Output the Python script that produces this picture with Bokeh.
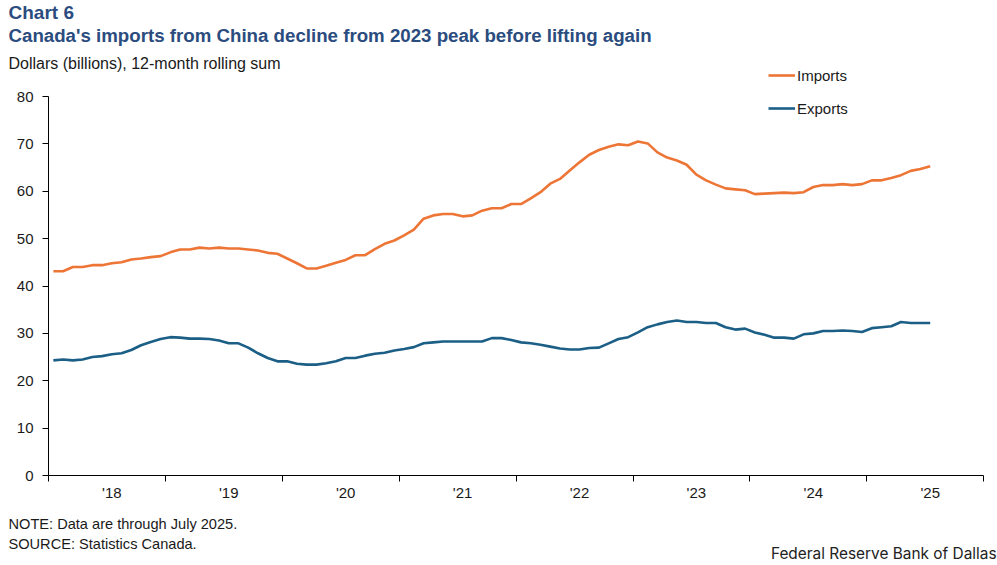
import pandas as pd
from bokeh.plotting import figure
from bokeh.models import Range1d, FixedTicker, Label, Legend, LegendItem
from bokeh.embed import file_html
from bokeh.resources import INLINE

# ---- data (monthly, Jan 2018 - Jul 2025), 12-month rolling sums, $ billions
months = [d.strftime("%Y-%m") for d in pd.date_range("2018-01-01", "2025-07-01", freq="MS")]

imports = [
    43.1, 43.1, 44.0, 44.0, 44.4, 44.4, 44.8, 45.0, 45.6, 45.8, 46.1, 46.3,
    47.1, 47.7, 47.7, 48.1, 47.9, 48.1, 47.9, 47.9, 47.7, 47.5, 47.0, 46.8,
    45.8, 44.8, 43.7, 43.7, 44.3, 44.9, 45.5, 46.5, 46.5, 47.8, 48.9, 49.6,
    50.7, 51.9, 54.2, 54.9, 55.2, 55.2, 54.7, 54.9, 55.9, 56.4, 56.4, 57.3,
    57.3, 58.5, 59.8, 61.6, 62.6, 64.4, 66.1, 67.7, 68.7, 69.4, 69.9, 69.7,
    70.5, 70.1, 68.2, 67.1, 66.5, 65.6, 63.5, 62.3, 61.4, 60.6, 60.4, 60.2,
    59.4, 59.5, 59.6, 59.7, 59.6, 59.8, 60.9, 61.3, 61.3, 61.5, 61.3, 61.5,
    62.3, 62.3, 62.8, 63.4, 64.3, 64.7, 65.3,
]

exports = [
    24.3, 24.5, 24.3, 24.5, 25.0, 25.2, 25.6, 25.8, 26.5, 27.5, 28.2, 28.8,
    29.2, 29.1, 28.9, 28.9, 28.8, 28.5, 27.9, 27.9, 27.0, 25.8, 24.8, 24.1,
    24.1, 23.6, 23.4, 23.4, 23.7, 24.1, 24.8, 24.8, 25.3, 25.7, 25.9, 26.4,
    26.7, 27.1, 27.9, 28.1, 28.3, 28.3, 28.3, 28.3, 28.3, 29.0, 29.0, 28.6,
    28.1, 27.9, 27.6, 27.2, 26.8, 26.6, 26.6, 26.9, 27.0, 27.9, 28.8, 29.2,
    30.2, 31.3, 31.9, 32.4, 32.7, 32.4, 32.4, 32.2, 32.2, 31.3, 30.8, 31.0,
    30.2, 29.7, 29.1, 29.1, 28.9, 29.8, 30.0, 30.5, 30.5, 30.6, 30.5, 30.3,
    31.1, 31.3, 31.5, 32.4, 32.2, 32.2, 32.2,
]

year_labels = ["'18", "'19", "'20", "'21", "'22", "'23", "'24", "'25"]
y_ticks = [0, 10, 20, 30, 40, 50, 60, 70, 80]

x_idx = list(range(len(months)))

# ---- styling
ORANGE = "#ED7536"
BLUE = "#1B5E86"
NAVY = "#2B4C7E"
FONT = "Liberation Sans"

W, H = 997, 565
n_axis_months = 96  # axis spans Jan 2018 .. Dec 2025
AX0, AX1 = -0.5, n_axis_months - 0.5
AY0, AY1 = 0, 80
# axis box position on the canvas (pixels)
FL, FR, FT, FB = 48.0, 983.3, 96.0, 475.0

def dx(px):
    return AX0 + (px - FL) * (AX1 - AX0) / (FR - FL)
def dy(py):
    return AY0 + (FB - py) * (AY1 - AY0) / (FB - FT)

p = figure(width=W, height=H, output_backend="svg", toolbar_location=None,
           x_range=Range1d(dx(0), dx(W)), y_range=Range1d(dy(H), dy(0)),
           min_border=0)
p.outline_line_color = None
p.xgrid.visible = False
p.ygrid.visible = False
p.background_fill_color = "white"
p.border_fill_color = "white"

r_imp = p.line(x_idx, imports, line_color=ORANGE, line_width=2.6)
r_exp = p.line(x_idx, exports, line_color=BLUE, line_width=2.6)

# y axis
ya = p.yaxis[0]
ya.fixed_location = AX0
ya.bounds = (AY0, AY1)
ya.ticker = FixedTicker(ticks=y_ticks)
ya.major_tick_out = 6
ya.major_tick_in = 0
ya.minor_tick_out = 0
ya.minor_tick_in = 0
ya.axis_line_color = "black"
ya.major_tick_line_color = "black"
ya.major_label_standoff = 9
ya.major_label_text_font = FONT
ya.major_label_text_font_size = "15px"
ya.major_label_text_color = "#1a1a1a"

# x axis: labels mid-year (July), tick marks at year boundaries
xa = p.xaxis[0]
xa.fixed_location = AY0
xa.bounds = (AX0, AX1)
label_pos = [6 + 12 * k for k in range(len(year_labels))]
bounds = [AX0 + 12 * k for k in range(len(year_labels) + 1)]
xa.ticker = FixedTicker(ticks=label_pos, minor_ticks=bounds)
xa.major_label_overrides = {pos: lab for pos, lab in zip(label_pos, year_labels)}
xa.major_tick_out = 0
xa.major_tick_in = 0
xa.minor_tick_out = 6
xa.minor_tick_in = 0
xa.minor_tick_line_color = "black"
xa.axis_line_color = "black"
xa.major_label_standoff = 2
xa.major_label_text_font = FONT
xa.major_label_text_font_size = "15px"
xa.major_label_text_color = "#1a1a1a"

def add_text(px, py, text, size, color="#1a1a1a", bold=False, font=FONT, align="left"):
    p.add_layout(Label(x=dx(px), y=dy(py), text=text, text_font=font,
                       text_font_size=size, text_color=color,
                       text_font_style="bold" if bold else "normal",
                       text_align=align, text_baseline="middle"))

add_text(8, 12, "Chart 6", "19px", NAVY, True)
add_text(8, 35, "Canada's imports from China decline from 2023 peak before lifting again",
         "18.7px", NAVY, True)
add_text(8, 63, "Dollars (billions), 12-month rolling sum", "16px")
add_text(8, 523, "NOTE: Data are through July 2025.", "14.6px")
add_text(8, 543, "SOURCE: Statistics Canada.", "14.6px")
add_text(996, 553, "Federal Reserve Bank of Dallas", "15.4px", "#222222", False, "Inter", "right")

legend = Legend(items=[LegendItem(label="Imports", renderers=[r_imp]),
                       LegendItem(label="Exports", renderers=[r_exp])],
                location=(768, H - 118), orientation="vertical",
                border_line_color=None, background_fill_alpha=0,
                padding=0, margin=0, spacing=13,
                glyph_width=27, glyph_height=20, label_height=20,
                label_standoff=2, label_text_font=FONT,
                label_text_font_size="15px", label_text_color="#1a1a1a")
p.add_layout(legend, "center")

open("out.html", "w").write(file_html(p, INLINE))
